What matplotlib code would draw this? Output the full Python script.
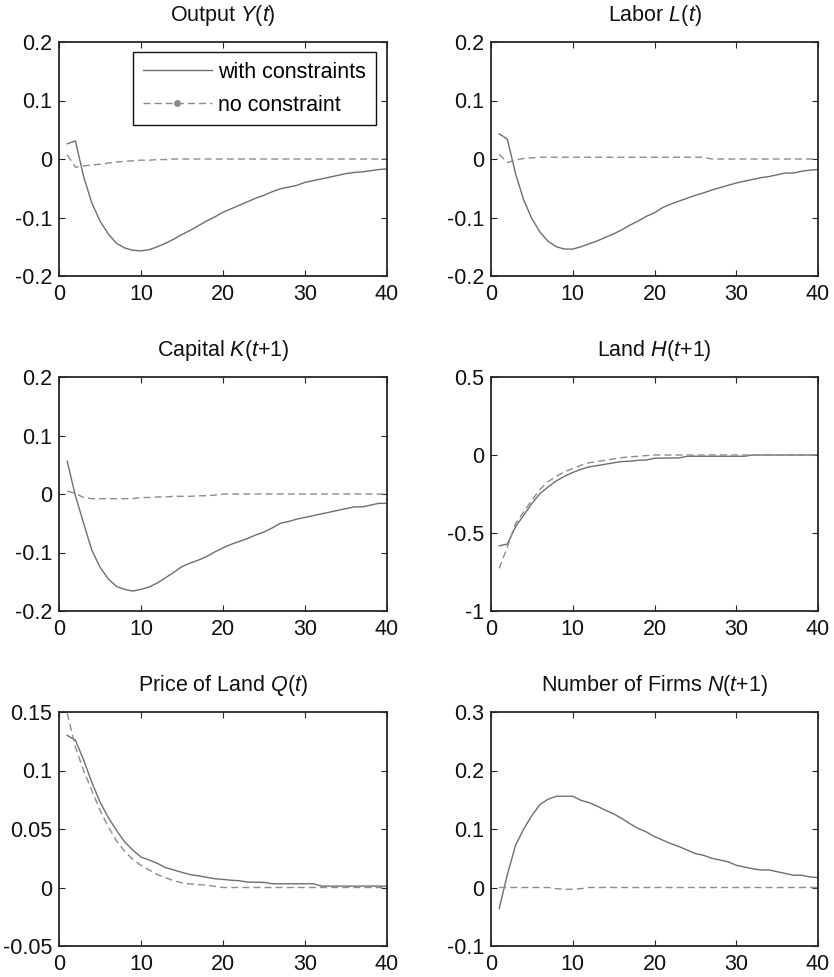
import matplotlib
matplotlib.use("Agg")
import matplotlib.pyplot as plt
from matplotlib.lines import Line2D
import numpy as np

plt.rcParams['font.family'] = ['Liberation Sans', 'DejaVu Sans']
plt.rcParams['mathtext.fontset'] = 'custom'
plt.rcParams['mathtext.rm'] = 'Liberation Sans'
plt.rcParams['mathtext.it'] = 'Liberation Sans:italic'
plt.rcParams['axes.unicode_minus'] = False

periods = list(range(1, 41))

# Output Y(t)
output_con = [0.026, 0.031, -0.030, -0.075, -0.106, -0.128, -0.144, -0.152, -0.156, -0.157,
              -0.155, -0.150, -0.144, -0.137, -0.129, -0.122, -0.114, -0.106, -0.099, -0.091,
              -0.085, -0.079, -0.073, -0.067, -0.062, -0.056, -0.051, -0.048, -0.045, -0.040,
              -0.037, -0.034, -0.031, -0.028, -0.025, -0.023, -0.022, -0.020, -0.018, -0.017]
output_free = [0.007, -0.014, -0.012, -0.010, -0.009, -0.007, -0.005, -0.004, -0.003, -0.002,
               -0.002, -0.001, -0.001, 0, 0, 0, 0, 0, 0, 0,
               0, 0, 0, 0, 0, 0, 0, 0, 0, 0,
               0, 0, 0, 0, 0, 0, 0, 0, 0, 0]

# Labor L(t)
labor_con = [0.043, 0.034, -0.025, -0.070, -0.102, -0.125, -0.141, -0.150, -0.154, -0.154,
             -0.150, -0.145, -0.140, -0.134, -0.128, -0.121, -0.113, -0.106, -0.098, -0.092,
             -0.083, -0.077, -0.072, -0.067, -0.062, -0.058, -0.053, -0.049, -0.045, -0.041,
             -0.038, -0.035, -0.032, -0.030, -0.027, -0.024, -0.024, -0.021, -0.019, -0.018]
labor_free = [0.008, -0.006, -0.002, 0.001, 0.002, 0.003, 0.003, 0.003, 0.003, 0.003,
              0.003, 0.003, 0.003, 0.003, 0.003, 0.003, 0.003, 0.003, 0.003, 0.003,
              0.003, 0.003, 0.003, 0.003, 0.003, 0.003, 0, 0, 0, 0,
              0, 0, 0, 0, 0, 0, 0, 0, 0, 0]

# Capital K(t+1)
capital_con = [0.056, -0.003, -0.050, -0.096, -0.125, -0.145, -0.158, -0.163, -0.166, -0.163,
               -0.159, -0.152, -0.143, -0.134, -0.124, -0.118, -0.113, -0.107, -0.099, -0.092,
               -0.086, -0.081, -0.076, -0.070, -0.065, -0.058, -0.050, -0.047, -0.043, -0.040,
               -0.037, -0.034, -0.031, -0.028, -0.025, -0.022, -0.022, -0.019, -0.016, -0.016]
capital_free = [0.005, 0.001, -0.006, -0.008, -0.008, -0.008, -0.008, -0.008, -0.008, -0.006,
                -0.006, -0.005, -0.005, -0.004, -0.004, -0.004, -0.003, -0.003, -0.002, 0,
                0, 0, 0, 0, 0, 0, 0, 0, 0, 0,
                0, 0, 0, 0, 0, 0, 0, 0, 0, 0]

# Land H(t+1)
land_con = [-0.582, -0.571, -0.460, -0.386, -0.311, -0.247, -0.204, -0.166, -0.136, -0.112,
            -0.092, -0.076, -0.068, -0.059, -0.050, -0.042, -0.040, -0.034, -0.032, -0.021,
            -0.020, -0.019, -0.019, -0.008, -0.008, -0.008, -0.008, -0.008, -0.008, -0.008,
            -0.008, 0, 0, 0, 0, 0, 0, 0, 0, 0]
land_free = [-0.727, -0.590, -0.440, -0.364, -0.290, -0.220, -0.170, -0.136, -0.108, -0.087,
             -0.066, -0.050, -0.041, -0.034, -0.025, -0.017, -0.012, -0.008, -0.004, 0,
             0, 0, 0, 0, 0, 0, 0, 0, 0, 0,
             0, 0, 0, 0, 0, 0, 0, 0, 0, 0]

# Price of Land Q(t)
price_con = [0.130, 0.126, 0.109, 0.090, 0.073, 0.060, 0.049, 0.039, 0.032, 0.026,
             0.0235, 0.0206, 0.017, 0.015, 0.0129, 0.011, 0.010, 0.0087, 0.0075, 0.0069,
             0.0062, 0.0058, 0.0046, 0.0045, 0.0044, 0.0032, 0.0032, 0.0032, 0.0032, 0.0032,
             0.0032, 0.0012, 0.0012, 0.0012, 0.0012, 0.0012, 0.0012, 0.0012, 0.0012, 0.0010]
price_free = [0.149, 0.120, 0.100, 0.083, 0.066, 0.052, 0.040, 0.031, 0.024, 0.019,
              0.015, 0.011, 0.0083, 0.0058, 0.004, 0.003, 0.0025, 0.002, 0.001, 0,
              0, 0, 0, 0, 0, 0, 0, 0, 0, 0,
              0, 0, 0, 0, 0, 0, 0, 0, 0, 0]

# Number of Firms N(t+1)
firms_con = [-0.036, 0.022, 0.072, 0.100, 0.123, 0.142, 0.151, 0.156, 0.156, 0.156,
             0.149, 0.145, 0.139, 0.132, 0.126, 0.118, 0.109, 0.101, 0.095, 0.087,
             0.081, 0.075, 0.070, 0.064, 0.058, 0.055, 0.050, 0.047, 0.044, 0.038,
             0.035, 0.032, 0.030, 0.030, 0.027, 0.024, 0.021, 0.021, 0.018, 0.017]
firms_free = [0, 0, 0, 0, 0, 0, 0, -0.002, -0.003, -0.003,
              -0.002, 0, 0, 0, 0, 0, 0, 0, 0, 0,
              0, 0, 0, 0, 0, 0, 0, 0, 0, 0,
              0, 0, 0, 0, 0, 0, 0, 0, 0, 0]

titles = [r"Output $\it{Y}$($\it{t}$)", r"Labor $\it{L}$($\it{t}$)",
          r"Capital $\it{K}$($\it{t}$+1)", r"Land $\it{H}$($\it{t}$+1)",
          r"Price of Land $\it{Q}$($\it{t}$)", r"Number of Firms $\it{N}$($\it{t}$+1)"]

yticks_list = [[-0.2, -0.1, 0, 0.1, 0.2], [-0.2, -0.1, 0, 0.1, 0.2],
               [-0.2, -0.1, 0, 0.1, 0.2], [-1, -0.5, 0, 0.5],
               [-0.05, 0, 0.05, 0.1, 0.15], [-0.1, 0, 0.1, 0.2, 0.3]]
ytick_labels = [["-0.2", "-0.1", "0", "0.1", "0.2"], ["-0.2", "-0.1", "0", "0.1", "0.2"],
                ["-0.2", "-0.1", "0", "0.1", "0.2"], ["-1", "-0.5", "0", "0.5"],
                ["-0.05", "0", "0.05", "0.1", "0.15"], ["-0.1", "0", "0.1", "0.2", "0.3"]]
xticks = [0, 10, 20, 30, 40]
xtick_labels = ["0", "10", "20", "30", "40"]

series_con = [output_con, labor_con, capital_con, land_con, price_con, firms_con]
series_free = [output_free, labor_free, capital_free, land_free, price_free, firms_free]

W, H = 834, 977
fig = plt.figure(figsize=(W / 100, H / 100), dpi=100)

lefts = [59, 491]
tops = [42, 377, 712]
aw = [328, 327]
ah = 234

FS = 15.5
solid_col = '#6e6e6e'
dash_col = '#8c8c8c'
spine_col = '#262626'

for i in range(6):
    r, c = divmod(i, 2)
    ax = fig.add_axes([lefts[c] / W, 1 - (tops[r] + ah) / H, aw[c] / W, ah / H])
    ax.plot(periods, series_con[i], color=solid_col, lw=1.0, ls='-')
    ax.plot(periods, series_free[i], color=dash_col, lw=1.0, ls=(0, (5, 3)))
    yt = yticks_list[i]
    ax.set_xlim(0, 40)
    ax.set_ylim(yt[0], yt[-1])
    ax.set_xticks(xticks)
    ax.set_xticklabels(xtick_labels)
    ax.set_yticks(yt)
    ax.set_yticklabels(ytick_labels[i])
    ax.tick_params(direction='in', top=True, right=True, length=4, width=0.8,
                   labelsize=FS, colors=spine_col, labelcolor='#111111')
    ax.tick_params(axis='x', pad=5.5)
    ax.tick_params(axis='y', pad=5)
    for sp in ax.spines.values():
        sp.set_color(spine_col)
        sp.set_linewidth(1.3)
    ax.set_title(titles[i], fontsize=FS, pad=15, color='#111111')
    if i == 0:
        handles = [Line2D([], [], color=solid_col, lw=1.0, ls='-'),
                   Line2D([], [], color=dash_col, lw=1.0, ls=(0, (5, 3)),
                          marker='o', ms=4, markerfacecolor=dash_col, markeredgecolor=dash_col)]
        leg = ax.legend(handles, ["with constraints", "no constraint"],
                        loc='upper right', bbox_to_anchor=(0.966, 0.957),
                        borderaxespad=0, fontsize=FS, frameon=True, fancybox=False,
                        edgecolor='#111111', framealpha=1, handlelength=3.2,
                        handletextpad=0.3, labelspacing=0.55, borderpad=0.45,
                        numpoints=1)
        leg.get_frame().set_linewidth(1.0)

fig.savefig("out.png", dpi=100)
